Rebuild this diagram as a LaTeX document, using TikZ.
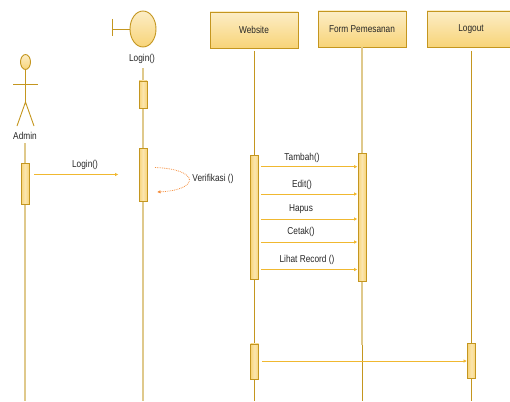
\documentclass[tikz,border=0pt]{standalone}
\usepackage{fontspec}
\setmainfont[FakeStretch=0.83]{Liberation Sans}
\usetikzlibrary{arrows.meta,shapes.geometric}
\definecolor{umlline}{HTML}{C4961F}
\definecolor{umlpale}{HTML}{DFC98C}
\definecolor{umlmsg}{HTML}{F0B830}
\definecolor{umltop}{HTML}{FCEDC6}
\definecolor{umlbot}{HTML}{F8D478}
\definecolor{umlverif}{HTML}{F58E3C}
\tikzset{
	lifebox/.style={draw=umlline, line width=0.9pt, top color=umltop, bottom color=umlbot, minimum width=88pt, minimum height=36pt, inner sep=0pt, font=\fontsize{10}{11}\selectfont, text=black!85},
	actbox/.style={draw=umlline, line width=0.9pt, left color=umlbot, right color=umlbot, middle color=umltop!70!umlbot, minimum width=8pt, inner sep=0pt},
	lifeline/.style={line width=0.9pt, color=umlline},
	paleline/.style={line width=1.5pt, color=umlpale},
	msg/.style={line width=1pt, color=umlmsg, -{Latex[length=3.5pt,width=3.5pt]}},
	verif/.style={line width=0.8pt, color=umlverif, densely dotted, -{Latex[length=3.5pt,width=3.5pt]}},
	lbl/.style={font=\fontsize{10}{11}\selectfont, text=black!85, inner sep=0pt},
	figure/.style={draw=umlline, line width=0.9pt, top color=umltop, bottom color=umlbot, ellipse, inner sep=0pt}
}
\begin{document}
\begin{tikzpicture}[x=1pt, y=-1pt]
		\useasboundingbox (0, 0) rectangle (510, 401);
		%%%%% START %%%%%
		
		% top boxes
		\node[lifebox] (website) at (254, 30) {Website};
		\node[lifebox] (form) at (362, 29) {Form Pemesanan};
		\node[lifebox] (logout) at (471, 29) {Logout};
		
		% admin
		\node[figure, minimum width=10pt, minimum height=15pt] (adminhead) at (25.5, 62) {};
		\coordinate (adminhip) at (25.5, 102);
		\coordinate (adminarml) at (13, 84.5);
		\coordinate (adminarmr) at (38, 84.5);
		\coordinate (adminlegl) at (17, 126);
		\coordinate (adminlegr) at (34, 126);
		\draw[lifeline] (adminhead) -- (adminhip);
		\draw[lifeline] (adminarml) -- (adminarmr);
		\draw[lifeline] (adminlegl) -- (adminhip) -- (adminlegr);
		\node[lbl] (adminlbl) at (25, 136) {Admin};
		
		% login boundary
		\node[figure, minimum width=26pt, minimum height=36pt] (logincirc) at (143, 29) {};
		\coordinate (logintick) at (112, 29);
		\draw[lifeline] (logincirc) -- (logintick);
		\draw[lifeline] (112, 19) -- (112, 36);
		\node[lbl] (loginlbl) at (142, 59) {Login()};
		
		% lifelines
		\coordinate (adminend) at (25, 401);
		\coordinate (loginend) at (143, 401);
		\coordinate (websiteend) at (254, 401);
		\coordinate (formend) at (362, 401);
		\coordinate (formmid) at (362, 345);
		\coordinate (logoutend) at (471, 401);
		\draw[paleline] (25, 143) -- (adminend);
		\draw[paleline] (143, 68.5) -- (loginend);
		\draw[lifeline] (254, 51) -- (websiteend);
		\draw[lifeline] (362, 345) -- (formend);
		\draw[paleline] (form.south) -- (formmid);
		\draw[lifeline] (471, 51) -- (logoutend);
		
		% activations
		\node[actbox, minimum height=41pt] (adminact) at (25, 183.5) {};
		\node[actbox, minimum height=27pt] (loginacta) at (143, 94.5) {};
		\node[actbox, minimum height=53pt] (loginactb) at (143, 174.5) {};
		\node[actbox, minimum height=124pt] (websiteacta) at (254.5, 217) {};
		\node[actbox, minimum height=35.5pt] (websiteactb) at (254.5, 361.7) {};
		\node[actbox, minimum height=128pt] (formact) at (362, 217) {};
		\node[actbox, minimum height=34.5pt] (logoutact) at (471.5, 360.7) {};
		
		% messages
		\draw[msg] ([xshift=5pt]adminact.east |- 0, 174.5) -- ([xshift=-20pt]loginactb.west |- 0, 174.5);
		\node[lbl] (loginmsg) at (85, 165) {Login()};
		
		\draw[verif] (155, 167.5) .. controls (200, 169) and (200, 190) .. (157, 192);
		\node[lbl] (veriflbl) at (213, 179) {Verifikasi ()};
		
		\draw[msg] ([xshift=2pt]websiteacta.east |- 0, 166.7) -- (formact.west |- 0, 166.7);
		\node[lbl] (tambahlbl) at (302, 158) {Tambah()};
		\draw[msg] ([xshift=2pt]websiteacta.east |- 0, 194) -- (formact.west |- 0, 194);
		\node[lbl] (editlbl) at (302, 185) {Edit()};
		\draw[msg] ([xshift=2pt]websiteacta.east |- 0, 219) -- (formact.west |- 0, 219);
		\node[lbl] (hapuslbl) at (301, 209) {Hapus};
		\draw[msg] ([xshift=2pt]websiteacta.east |- 0, 242) -- (formact.west |- 0, 242);
		\node[lbl] (cetaklbl) at (301, 232) {Cetak()};
		\draw[msg] ([xshift=2pt]websiteacta.east |- 0, 269.5) -- (formact.west |- 0, 269.5);
		\node[lbl] (lihatlbl) at (307, 260) {Lihat Record ()};
		
		\draw[msg] ([xshift=3pt]websiteactb.east |- 0, 361) -- (logoutact.west |- 0, 361);
		
		%%%%% END %%%%%
	\end{tikzpicture}
\end{document}
